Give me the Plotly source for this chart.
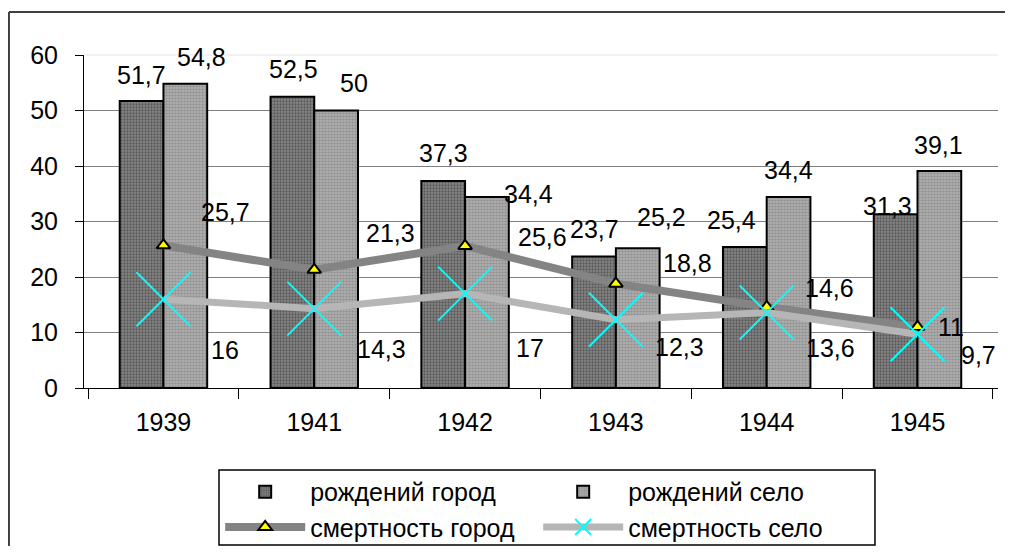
import plotly.graph_objects as go

years = ["1939", "1941", "1942", "1943", "1944", "1945"]
births_city = [51.7, 52.5, 37.3, 23.7, 25.4, 31.3]
births_village = [54.8, 50, 34.4, 25.2, 34.4, 39.1]
deaths_city = [25.7, 21.3, 25.6, 18.8, 14.6, 11]
deaths_village = [16, 14.3, 17, 12.3, 13.6, 9.7]

names = ["рождений город", "рождений село", "смертность город", "смертность село"]

# label offsets (px, relative to category centre / value point)
off_bc = [(-22, 26), (-21, 28), (-22, 28), (-21, 27), (-35, 27), (-30, 8)]
off_bv = [(38, 27), (40, 28), (63, 3), (46, 31), (22, 27), (21, 26)]
off_dc = [(62, 33), (76, 37), (77, 9), (72, 21), (63, 19), (33, 0)]
off_dv = [(62, -51), (67, -40), (65, -54), (64, -27), (64, -35), (61, -21)]

FONT = "Liberation Sans, Arial, sans-serif"
FS = 25

def fmt(v):
    return (f"{v:g}").replace(".", ",")

fig = go.Figure()
fig.add_trace(go.Bar(
    x=years, y=births_city, name=names[0], legend="legend",
    marker=dict(color="#7a7a7a", line=dict(color="black", width=2),
                pattern=dict(shape=".", fgcolor="#2e2e2e", bgcolor="#858585", size=3, solidity=0.45)),
))
fig.add_trace(go.Bar(
    x=years, y=births_village, name=names[1], legend="legend",
    marker=dict(color="#a6a6a6", line=dict(color="black", width=2),
                pattern=dict(shape=".", fgcolor="#6e6e6e", bgcolor="#adadad", size=3, solidity=0.4)),
))
fig.add_trace(go.Scatter(
    x=years, y=deaths_city, name=names[2], mode="lines+markers", legend="legend2",
    line=dict(color="#848484", width=8),
    marker=dict(symbol="triangle-up", size=12, color="#ffff00", line=dict(color="black", width=2)),
))
fig.add_trace(go.Scatter(
    x=years, y=deaths_village, name=names[3], mode="lines+markers", legend="legend2",
    line=dict(color="#b6b6b6", width=7),
    marker=dict(symbol="x-thin", size=54, color="#00ffff", line=dict(color="#00ffff", width=2)),
))

annotations = []
def add_labels(vals, offs):
    for i, (v, (dx, dy)) in enumerate(zip(vals, offs)):
        annotations.append(dict(x=i, y=v, xref="x", yref="y", text=fmt(v), showarrow=False,
                                xshift=dx, yshift=dy, font=dict(family=FONT, size=FS, color="black")))
add_labels(births_city, off_bc)
add_labels(births_village, off_bv)
add_labels(deaths_city, off_dc)
add_labels(deaths_village, off_dv)

shapes = [
    # outer chart frame (top and left edges)
    dict(type="line", xref="paper", yref="paper", x0=-0.0821, x1=1.1, y0=1.1291, y1=1.1291,
         line=dict(color="#404040", width=2)),
    dict(type="line", xref="paper", yref="paper", x0=-0.0821, x1=-0.0821, y0=-0.7, y1=1.1291,
         line=dict(color="#404040", width=2)),
    # faint top gridline
    dict(type="line", xref="paper", yref="paper", x0=0.001, x1=1, y0=1, y1=1,
         line=dict(color="#eeeeee", width=1.5), layer="between"),
    # legend box
    dict(type="rect", xref="paper", yref="paper", x0=0.1477, x1=0.8654, y0=-0.4715, y1=-0.2462,
         line=dict(color="black", width=1.5), fillcolor="rgba(0,0,0,0)"),
]

legend_common = dict(orientation="h", xanchor="left", yanchor="middle", bgcolor="rgba(0,0,0,0)",
                     borderwidth=0, font=dict(family=FONT, size=FS, color="black"),
                     itemwidth=80, entrywidth=223, entrywidthmode="pixels", itemsizing="trace")

fig.update_layout(
    width=997, height=538,
    margin=dict(l=76, r=7, t=47, b=158, autoexpand=False),
    paper_bgcolor="white", plot_bgcolor="white",
    barmode="group", bargap=0.42, bargroupgap=0,
    font=dict(family=FONT, size=FS, color="black"),
    showlegend=True,
    legend=dict(x=0.149, y=-0.312, **legend_common),
    legend2=dict(x=0.149, y=-0.418, **legend_common),
    xaxis=dict(type="category", showline=True, linecolor="black", linewidth=1,
               ticks="outside", ticklen=10, tickcolor="black", tickson="boundaries",
               showgrid=False, tickfont=dict(size=FS), ticklabelstandoff=12),
    yaxis=dict(range=[0, 60], dtick=10, showline=True, linecolor="black", linewidth=1,
               ticks="outside", ticklen=8, tickcolor="black",
               showgrid=True, gridcolor="#808080", gridwidth=1, zeroline=False,
               tickfont=dict(size=FS), ticklabelstandoff=12),
    annotations=annotations,
    shapes=shapes,
)

fig.write_html("out.html")
